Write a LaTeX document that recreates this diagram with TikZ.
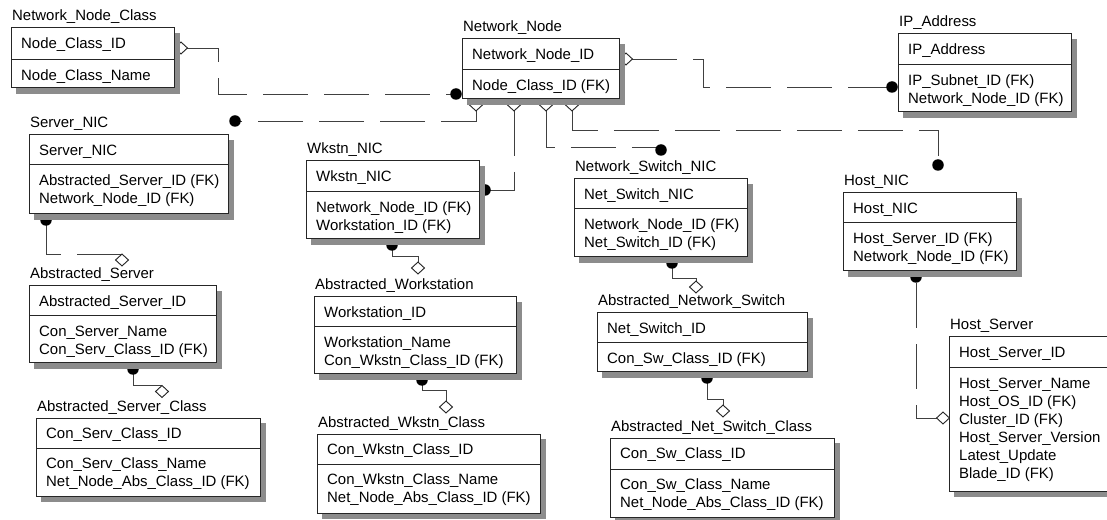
\documentclass[tikz,border=0pt]{standalone}
\usepackage{fontspec}
\setmainfont{Liberation Sans}
\usetikzlibrary{shapes.geometric}
\newcommand{\erows}[1]{\begin{tabular}[t]{@{}l@{}}#1\end{tabular}}
\newcommand{\erent}[9]{%
  \fill[shadowc] ({#2+5},{#3+5}) rectangle ({#4+6},{#6+6});
  \draw[boxline, fill=white] (#2,#3) rectangle (#4,#6);
  \draw[boxline] (#2,#5) -- (#4,#5);
  \node[ttl] (#1t) at ({#2+1},{#3-7}) {#7};
  \node[txt] (#1k) at ({#2+10},{#3+20.5}) {#8};
  \node[txt] (#1a) at ({#2+10},{#5+20.5}) {\erows{#9}};
}
\begin{document}
\begin{tikzpicture}[x=1bp,y=-1bp,
  boxline/.style={draw=black!85, line width=1bp},
  shadowc/.style={fill=black!45},
  ttl/.style={anchor=base west, inner sep=0pt, font=\fontsize{15}{18}\selectfont},
  txt/.style={anchor=base west, inner sep=0pt, font=\fontsize{15}{18}\selectfont},
  rel/.style={draw=black!75, line width=0.9bp, dash pattern=on 45bp off 16bp},
  dia/.style={shape=diamond, draw=black!85, fill=white, line width=0.9bp, minimum width=12bp, minimum height=11bp, inner sep=0pt},
  dotn/.style={shape=circle, fill=black, minimum size=11.5bp, inner sep=0pt}
]
\useasboundingbox (0,0) rectangle (1107,520);
\clip (0,0) rectangle (1107,520);
\fill[white] (0,0) rectangle (1107,520);

% relationship end markers
\node[dia] (d1) at (181,48) {};
\node[dia] (d2) at (626,59) {};
\node[dia] (d3) at (476,105) {};
\node[dia] (d4) at (514,105) {};
\node[dia] (d5) at (546,105) {};
\node[dia] (d6) at (572,105) {};
\node[dia] (d7) at (943,418) {};
\node[dia] (d8) at (122,260) {};
\node[dia] (d9) at (162,391.5) {};
\node[dia] (d10) at (418,268) {};
\node[dia] (d11) at (446,407) {};
\node[dia] (d12) at (696,287) {};
\node[dia] (d13) at (723,411) {};

\coordinate (p1) at (456,94);
\coordinate (p2) at (892,87);
\coordinate (p3) at (235,121);
\coordinate (p4) at (485,190);
\coordinate (p5) at (661,150);
\coordinate (p6) at (938,165);
\coordinate (p7) at (916,277);
\coordinate (p8) at (46,220);
\coordinate (p9) at (133,369);
\coordinate (p10) at (392,245);
\coordinate (p11) at (422,380);
\coordinate (p12) at (672,263);
\coordinate (p13) at (707,378);

% connectors
\draw[rel] (d1.east) -- (218,48) |- (p1);
\draw[rel] (d2.east) -- (703,59) |- (p2);
\draw[rel] (d3.south) |- (p3);
\draw[rel] (d4.south) |- (p4);
\draw[rel] (d5.south) |- ([yshift=3bp]p5);
\draw[rel] (d6.south) |- (938,130) -- (p6);
\draw[rel, dash phase=11bp] (d7.west) -| (p7);
\draw[rel] (d8.north) -| (p8);
\draw[rel] (d9.north) -| (p9);
\draw[rel] (d10.north) -- (418,256) -| (p10);
\draw[rel] (d11.north) -- (446,390) -| (p11);
\draw[rel] (d12.north) -- (696,278) -| (p12);
\draw[rel] (d13.north) -- (723,399) -| (p13);

% redraw diamonds on top of lines
\foreach \d in {d1,d2,d3,d4,d5,d6,d7,d8,d9,d10,d11,d12,d13}
  \draw[draw=black!85, fill=white, line width=0.9bp] (\d.north) -- (\d.east) -- (\d.south) -- (\d.west) -- cycle;

\foreach \p in {p1,p2,p3,p4,p5,p6,p7,p8,p9,p10,p11,p12,p13}
  \node[dotn] at (\p) {};

% entities
\erent{nnc}{11}{28}{174}{60}{88}{Network\_Node\_Class}{Node\_Class\_ID}{Node\_Class\_Name}
\erent{nn}{462}{39}{619}{70}{99}{Network\_Node}{Network\_Node\_ID}{Node\_Class\_ID (FK)}
\erent{ip}{898}{34}{1071}{65}{112}{IP\_Address}{IP\_Address}{IP\_Subnet\_ID (FK)\\Network\_Node\_ID (FK)}
\erent{snic}{29}{135}{228}{165}{214}{Server\_NIC}{Server\_NIC}{Abstracted\_Server\_ID (FK)\\Network\_Node\_ID (FK)}
\erent{as}{29}{286}{216}{316}{363}{Abstracted\_Server}{Abstracted\_Server\_ID}{Con\_Server\_Name\\Con\_Serv\_Class\_ID (FK)}
\erent{asc}{36}{418}{260}{448}{496}{Abstracted\_Server\_Class}{Con\_Serv\_Class\_ID}{Con\_Serv\_Class\_Name\\Net\_Node\_Abs\_Class\_ID (FK)}
\erent{wnic}{306}{161}{479}{192}{239}{Wkstn\_NIC}{Wkstn\_NIC}{Network\_Node\_ID (FK)\\Workstation\_ID (FK)}
\erent{aw}{314}{297}{516}{327}{374}{Abstracted\_Workstation}{Workstation\_ID}{Workstation\_Name\\Con\_Wkstn\_Class\_ID (FK)}
\erent{awc}{317}{434}{540}{464}{513}{Abstracted\_Wkstn\_Class}{Con\_Wkstn\_Class\_ID}{Con\_Wkstn\_Class\_Name\\Net\_Node\_Abs\_Class\_ID (FK)}
\erent{nsn}{574}{179}{747}{209}{257}{Network\_Switch\_NIC}{Net\_Switch\_NIC}{Network\_Node\_ID (FK)\\Net\_Switch\_ID (FK)}
\erent{ans}{597}{313}{807}{343}{372}{Abstracted\_Network\_Switch}{Net\_Switch\_ID}{Con\_Sw\_Class\_ID (FK)}
\erent{ansc}{610}{438}{834}{469}{517}{Abstracted\_Net\_Switch\_Class}{Con\_Sw\_Class\_ID}{Con\_Sw\_Class\_Name\\Net\_Node\_Abs\_Class\_ID (FK)}
\erent{hnic}{843}{193}{1016}{223}{271}{Host\_NIC}{Host\_NIC}{Host\_Server\_ID (FK)\\Network\_Node\_ID (FK)}
\erent{hs}{949}{337}{1115}{368}{491}{Host\_Server}{Host\_Server\_ID}{Host\_Server\_Name\\Host\_OS\_ID (FK)\\Cluster\_ID (FK)\\Host\_Server\_Version\\Latest\_Update\\Blade\_ID (FK)}
\end{tikzpicture}
\end{document}
